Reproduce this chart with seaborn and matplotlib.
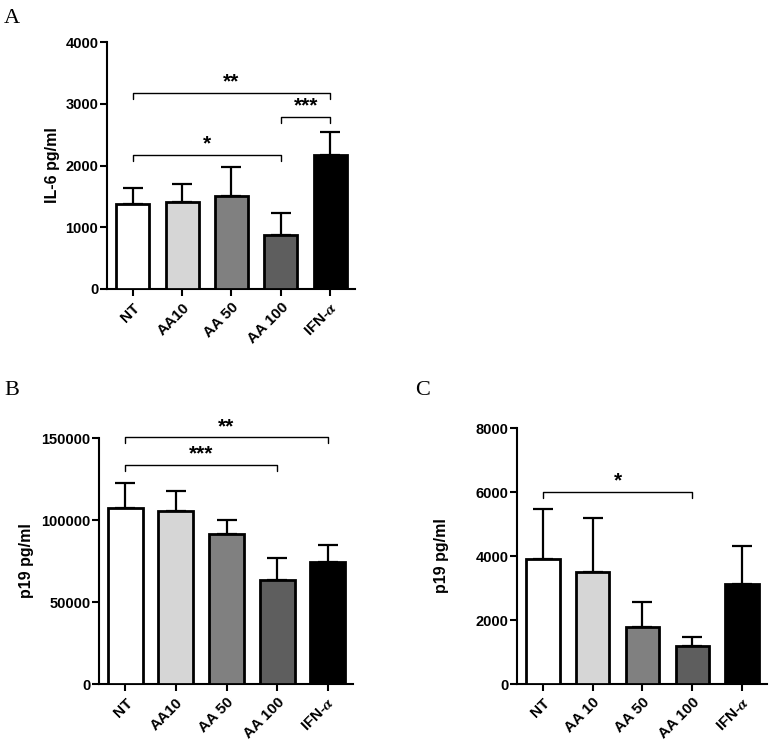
import numpy as np
import pandas as pd
import matplotlib
matplotlib.use("Agg")
import matplotlib.pyplot as plt
import seaborn as sns

sns.set_style("ticks")
plt.rcParams['font.family'] = ['Liberation Sans', 'DejaVu Sans']
plt.rcParams['font.weight'] = 'bold'
plt.rcParams['mathtext.fontset'] = 'stix'
for key in ['text.color', 'axes.labelcolor', 'xtick.color', 'ytick.color', 'axes.edgecolor']:
    plt.rcParams[key] = 'black'

# data
cats_a = ['NT', 'AA10', 'AA 50', 'AA 100', 'IFN-$\\alpha$']
il6_mean = [1370, 1410, 1510, 880, 2170]
il6_sd = [270, 290, 460, 350, 380]
brackets_a = [(0, 4, 3180, '**'), (3, 4, 2790, '***'), (0, 3, 2170, '*')]

cats_b = ['NT', 'AA10', 'AA 50', 'AA 100', 'IFN-$\\alpha$']
p19_b_mean = [107300, 105300, 91700, 63600, 74200]
p19_b_sd = [15200, 12200, 8500, 13000, 10600]
brackets_b = [(0, 4, 150400, '**'), (0, 3, 133700, '***')]

cats_c = ['NT', 'AA 10', 'AA 50', 'AA 100', 'IFN-$\\alpha$']
p19_c_mean = [3910, 3500, 1780, 1180, 3130]
p19_c_sd = [1560, 1690, 780, 280, 1190]
brackets_c = [(0, 3, 6000, '*')]

bar_colors = ['#ffffff', '#d6d6d6', '#808080', '#5e5e5e', '#000000']


def draw_panel(ax, cats, means, sds, brackets, ymax, ystep, ylabel, width=0.67, labelpad=4):
    df = pd.DataFrame({'group': cats, 'value': means})
    sns.barplot(data=df, x='group', y='value', hue='group', palette=bar_colors,
                legend=False, edgecolor='black', linewidth=2.0, width=width,
                errorbar=None, ax=ax, zorder=3)
    ax.errorbar(np.arange(len(cats)), means, yerr=[np.zeros(len(sds)), sds],
                fmt='none', ecolor='black', elinewidth=1.6, capsize=7,
                capthick=1.6, zorder=2)
    ax.set_ylim(0, ymax)
    ax.set_yticks(np.arange(0, ymax + 1, ystep))
    ax.set_xlim(-0.52, len(cats) - 0.5)
    ax.set_xlabel('')
    ax.set_ylabel(ylabel, fontsize=11.5, fontweight='bold', labelpad=labelpad)
    ax.set_xticks(range(len(cats)))
    ax.set_xticklabels(cats, rotation=45, ha='right', rotation_mode='anchor',
                       fontsize=11, fontweight='bold')
    ax.tick_params(axis='both', width=1.5, length=4.8)
    ax.tick_params(axis='y', labelsize=10.5, pad=1.5)
    for lab in ax.get_yticklabels():
        lab.set_fontweight('bold')
    sns.despine(ax=ax)
    for s in ['left', 'bottom']:
        ax.spines[s].set_linewidth(1.5)

    drop = ymax * 0.025
    for x0, x1, y, label in brackets:
        ax.plot([x0, x0, x1, x1], [y - drop, y, y, y - drop], color='black',
                lw=1.0, clip_on=False)
        ax.text((x0 + x1) / 2, y + ymax * 0.022, label, ha='center',
                va='baseline', fontsize=15, fontweight='bold', clip_on=False)


fig = plt.figure(figsize=(7.7, 7.5), dpi=100)
W, H = 770, 750


def px_axes(left, top, right, bottom):
    return fig.add_axes([left / W, 1 - bottom / H, (right - left) / W, (bottom - top) / H])


ax_a = px_axes(107, 42, 355, 289)
draw_panel(ax_a, cats_a, il6_mean, il6_sd, brackets_a, 4000, 1000, 'IL-6 pg/ml', labelpad=4)

ax_b = px_axes(99, 438, 353, 684)
draw_panel(ax_b, cats_b, p19_b_mean, p19_b_sd, brackets_b, 150000, 50000, 'p19 pg/ml',
           width=0.69, labelpad=5)

ax_c = px_axes(517, 428, 767, 684)
draw_panel(ax_c, cats_c, p19_c_mean, p19_c_sd, brackets_c, 8000, 2000, 'p19 pg/ml', labelpad=19)

for lbl, x, y in [('A', 4, 9), ('B', 4, 381), ('C', 415, 381)]:
    fig.text(x / W, 1 - y / H, lbl, family='Liberation Serif', fontweight='normal',
             fontsize=16, ha='left', va='top')

fig.savefig('out.png', dpi=100)
